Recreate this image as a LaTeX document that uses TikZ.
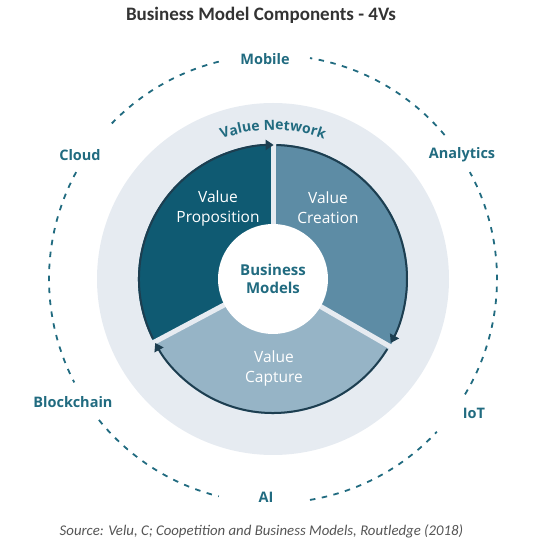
\documentclass[tikz,border=0pt]{standalone}
\usepackage{fontspec}
\setmainfont{Carlito}
\newfontfamily\lblfont{Open Sans}
\usetikzlibrary{arrows.meta,decorations.text}
\definecolor{ringc}{HTML}{E6EBF1}
\definecolor{propc}{HTML}{0F5A72}
\definecolor{creatc}{HTML}{5D8CA5}
\definecolor{captc}{HTML}{96B4C6}
\definecolor{arcc}{HTML}{1D3E50}
\definecolor{tealc}{HTML}{216B80}
\definecolor{titlec}{HTML}{333333}
\definecolor{srcc}{HTML}{555555}
\tikzset{
  outerlbl/.style={text=tealc, font=\lblfont\bfseries\fontsize{14.5}{16}\selectfont, inner sep=0pt},
  innerlbl/.style={text=white, font=\lblfont\fontsize{15.5}{20}\selectfont, align=center, inner sep=0pt},
  dashc/.style={draw=tealc, line width=1.8pt, dash pattern=on 5.5pt off 6.5pt},
  flowarc/.style={draw=arcc, line width=2pt, -{Triangle[length=8pt,width=10pt]}},
  gapline/.style={draw=ringc, line width=5pt},
}
\begin{document}
\begin{tikzpicture}[x=1pt,y=1pt]
\useasboundingbox (-273,-269) rectangle (272,279);
% outer dashed ring segments
\draw[dashc] (40:224pt) arc[start angle=40, end angle=80.5, radius=224pt];
\draw[dashc] (104:224pt) arc[start angle=104, end angle=136, radius=224pt];
\draw[dashc] (151.5:224pt) arc[start angle=151.5, end angle=207.5, radius=224pt];
\draw[dashc] (219:224pt) arc[start angle=219, end angle=256, radius=224pt];
\draw[dashc] (279.5:224pt) arc[start angle=279.5, end angle=317, radius=224pt];
\draw[dashc] (-31:224pt) arc[start angle=-31, end angle=28.5, radius=224pt];
% light ring
\fill[ringc] (0,0) circle[radius=176pt];
% sectors
\fill[propc] (0,0) -- (208:135pt) arc[start angle=208, end angle=90, radius=135pt] -- cycle;
\fill[creatc] (0,0) -- (90:135pt) arc[start angle=90, end angle=-30, radius=135pt] -- cycle;
\fill[captc] (0,0) -- (-30:135pt) arc[start angle=-30, end angle=-152, radius=135pt] -- cycle;
% gaps
\draw[gapline] (0,0) -- (90:138pt);
\draw[gapline] (0,0) -- (208:138pt);
\draw[gapline] (0,0) -- (-30:138pt);
% flow arcs
\draw[flowarc] (206.5:134pt) arc[start angle=206.5, end angle=89.7, radius=134pt];
\draw[flowarc] (88.5:134pt) arc[start angle=88.5, end angle=-28.5, radius=134pt];
\draw[flowarc] (-31.5:134pt) arc[start angle=-31.5, end angle=-151.5, radius=134pt];
% centre
\node[circle, fill=white, minimum size=110pt, inner sep=0pt] (core) at (0,0) {};
\node[text=tealc, font=\lblfont\bfseries\fontsize{15}{18}\selectfont, align=center] (bm) at (0,0) {Business\\Models};
\node[innerlbl] (vp) at (-55,71) {Value\\Proposition};
\node[innerlbl] (vc) at (55,71) {Value\\Creation};
\node[innerlbl] (vcap) at (1,-89) {Value\\Capture};
% value network curved text
\path[decorate, decoration={text along path, text align=center,
  text={|\lblfont\bfseries\fontsize{14}{14}\selectfont\color{tealc}|Value Network}}]
  (130:149pt) arc[start angle=130, end angle=50, radius=149pt];
% outer labels
\node[outerlbl] (mobile) at (-8,220) {Mobile};
\node[outerlbl] (ai) at (-7,-218) {AI};
\node[outerlbl] (cloud) at (-193,124) {Cloud};
\node[outerlbl] (analytics) at (189,124) {Analytics};
\node[outerlbl] (blockchain) at (-200,-123) {Blockchain};
\node[outerlbl] (iot) at (201,-134) {IoT};
% title and source
\node[text=titlec, font=\bfseries\fontsize{19}{22}\selectfont, inner sep=0pt] (title) at (-12,264) {Business Model Components - 4Vs};
\node[text=srcc, font=\itshape\fontsize{14.8}{18}\selectfont, inner sep=0pt] (source) at (-11.5,-252) {Source: Velu, C; Coopetition and Business Models, Routledge (2018)};
\end{tikzpicture}
\end{document}
